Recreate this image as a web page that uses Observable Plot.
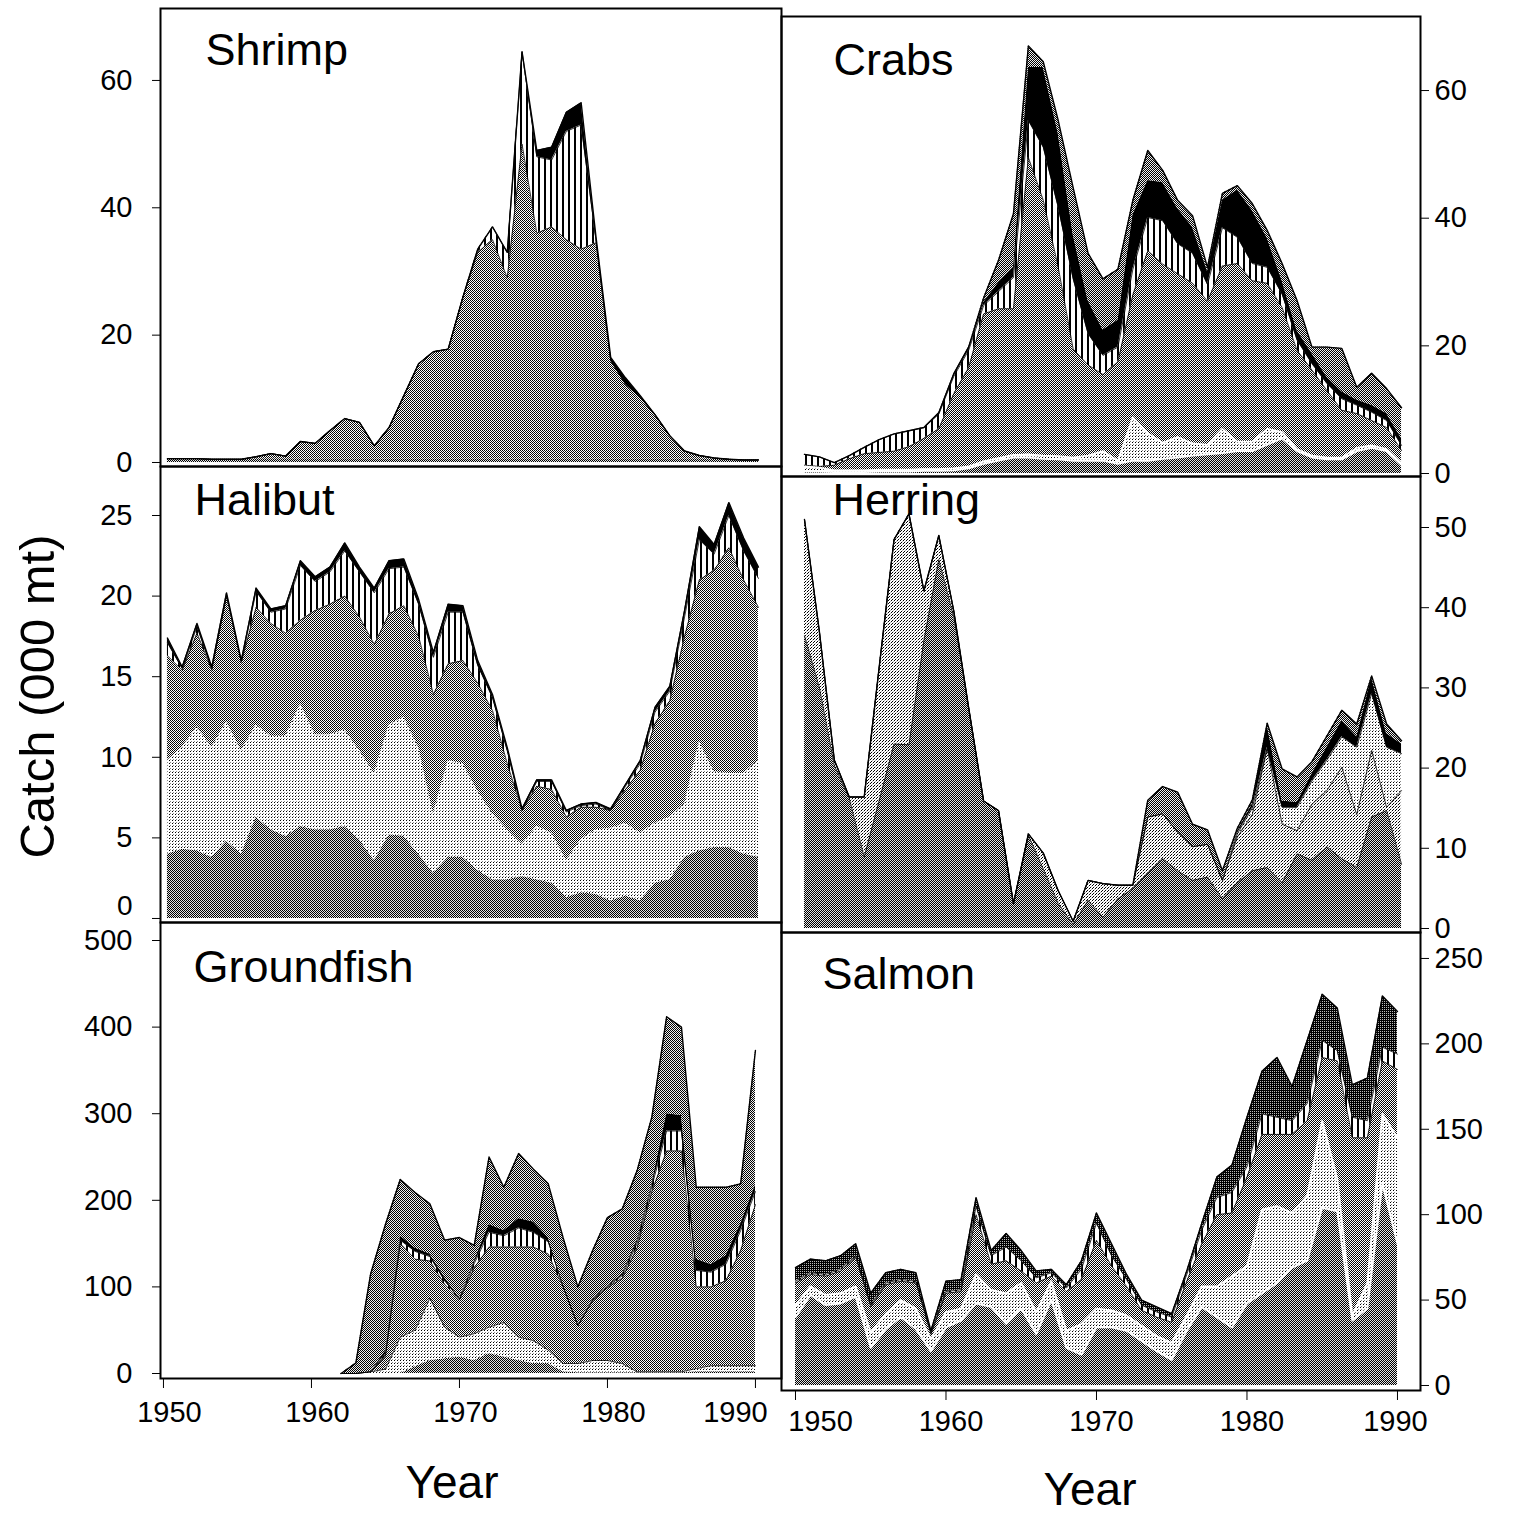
<!DOCTYPE html>
<html>
<head>
<meta charset="utf-8">
<title>Catch by fishery, 1950–1990</title>
<script src="https://cdn.jsdelivr.net/npm/d3@7"></script>
<script src="https://cdn.jsdelivr.net/npm/@observablehq/plot@0.6"></script>
<style>
  html, body { margin: 0; padding: 0; background: #fff; }
  #fig { position: relative; width: 1519px; height: 1516px; overflow: hidden;
         font-family: "Liberation Sans", Arial, Helvetica, sans-serif; color: #000; }
  .panel { position: absolute; }
  .panel svg { display: block; overflow: visible; max-width: none; }
  .label { position: absolute; white-space: nowrap; text-align: center; }
</style>
</head>
<body>
<div id="fig">
  <!-- Halftone fills shared by all panels -->
  <svg width="0" height="0" style="position:absolute" aria-hidden="true">
    <defs>
      <pattern id="pDark" width="2" height="2" patternUnits="userSpaceOnUse">
        <rect width="2" height="2" fill="#e2e2e2"/>
        <rect x="0" y="0" width="1" height="1" fill="#000"/>
        <rect x="1" y="1" width="1" height="1" fill="#000"/>
      </pattern>
      <pattern id="pMed" width="2" height="2" patternUnits="userSpaceOnUse">
        <rect width="2" height="2" fill="#fff"/>
        <rect x="0" y="0" width="1" height="1" fill="#000"/>
        <rect x="1" y="1" width="1" height="1" fill="#111"/>
      </pattern>
      <pattern id="pTop" width="2" height="2" patternUnits="userSpaceOnUse">
        <rect width="2" height="2" fill="#efefef"/>
        <rect x="0" y="0" width="1" height="1" fill="#000"/>
        <rect x="1" y="1" width="1" height="1" fill="#000"/>
      </pattern>
      <pattern id="pLight" width="3" height="3" patternUnits="userSpaceOnUse">
        <rect width="3" height="3" fill="#fff"/>
        <rect x="0" y="0" width="1" height="1" fill="#000"/>
        <rect x="1" y="2" width="1" height="1" fill="#888"/>
      </pattern>
      <pattern id="pLight2" width="3" height="3" patternUnits="userSpaceOnUse">
        <rect width="3" height="3" fill="#fff"/>
        <rect x="0" y="0" width="1" height="1" fill="#000"/>
        <rect x="2" y="1" width="1" height="1" fill="#000"/>
        <rect x="1" y="2" width="1" height="1" fill="#aaa"/>
      </pattern>
      <pattern id="pStripe" width="6" height="6" patternUnits="userSpaceOnUse">
        <rect width="6" height="6" fill="#fff"/>
        <rect x="0" y="0" width="2" height="6" fill="#000"/>
      </pattern>
      <pattern id="pBlackish" width="2" height="2" patternUnits="userSpaceOnUse">
        <rect width="2" height="2" fill="#000"/>
        <rect x="1" y="1" width="1" height="1" fill="#bbb"/>
      </pattern>
    </defs>
  </svg>
  <div class="label" style="left:-163px; top:672px; width:400px; font-size:49px; line-height:49px; transform:rotate(-90deg);">Catch (000 mt)</div>
  <div class="label" style="left:352px; top:1459px; width:200px; font-size:46px; line-height:46px;">Year</div>
  <div class="label" style="left:990px; top:1466px; width:200px; font-size:46px; line-height:46px;">Year</div>
</div>
<script>
// ---- years ----
const YEARS = [
  1950, 1951, 1952, 1953, 1954, 1955, 1956, 1957, 1958, 1959,
  1960, 1961, 1962, 1963, 1964, 1965, 1966, 1967, 1968, 1969,
  1970, 1971, 1972, 1973, 1974, 1975, 1976, 1977, 1978, 1979,
  1980, 1981, 1982, 1983, 1984, 1985, 1986, 1987, 1988, 1989, 1990
];
const GROUNDFISH_YEARS = [
  1962, 1963, 1964, 1965, 1966, 1967, 1968, 1969, 1970, 1971,
  1972, 1973, 1974, 1975, 1976, 1977, 1978, 1979, 1980, 1981,
  1982, 1983, 1984, 1985, 1986, 1987, 1988, 1989, 1990
];

// ---- Shrimp (000 mt), stacked bottom to top ----
const shrimpBand = [
  0.6, 0.6, 0.6, 0.5, 0.5, 0.5, 0.6, 0.6, 0.6, 0.6,
  0.6, 0.6, 0.6, 0.6, 0.6, 0.5, 0.5, 0.5, 0.5, 0.5,
  0.5, 0.5, 0.5, 0.5, 0.5, 0.5, 0.5, 0.5, 0.5, 0.5,
  0.5, 0.5, 0.5, 0.5, 0.5, 0.5, 0.5, 0.5, 0.5, 0.4, 0.4
];
const shrimpMain = [
  0, 0, 0, 0, 0, 0, 0.3, 0.8, 0.4, 2.7,
  2.4, 4.4, 6.3, 5.7, 2.0, 5.0, 10.0, 15.0, 16.9, 17.3,
  25.5, 32.5, 34.5, 28.5, 49.5, 35.5, 36.5, 34.5, 33.0, 34.0,
  15.5, 11.8, 9.7, 7.0, 3.7, 1.3, 0.6, 0.2, 0, 0, 0
];
const shrimpStriped = [
  0, 0, 0, 0, 0, 0, 0, 0, 0, 0,
  0, 0, 0, 0, 0, 0, 0, 0, 0, 0,
  0, 0.5, 2, 4, 14.5, 12, 10.5, 17, 19.5, 0.5,
  0, 0, 0, 0, 0, 0, 0, 0, 0, 0, 0
];
const shrimpBlack = [
  0, 0, 0, 0, 0, 0, 0, 0, 0, 0,
  0, 0, 0, 0, 0, 0, 0, 0, 0, 0,
  0, 0, 0, 0, 0, 1, 2, 3, 3.5, 0.5,
  0.5, 1.0, 0.3, 0, 0, 0, 0, 0, 0, 0, 0
];

// ---- Crabs ----
const crabDark = [
  0.3, 0.3, 0.2, 0.2, 0.2, 0.3, 0.3, 0.3, 0.4, 0.4,
  0.5, 0.8, 1.5, 2.0, 2.5, 2.5, 2.3, 2.2, 2.0, 2.0,
  2.0, 1.5, 2.0, 2.0, 2.3, 2.5, 2.8, 3.0, 3.2, 3.5,
  3.5, 4.5, 5.5, 3.5, 2.5, 2.2, 2.2, 3.5, 4.0, 3.5, 1.3
];
const crabLight = [
  0.8, 0.6, 0.3, 0.3, 0.3, 0.3, 0.3, 0.3, 0.3, 0.3,
  0.3, 0.3, 0.4, 0.4, 0.4, 0.5, 0.5, 0.5, 0.5, 0.8,
  1.5, 0.5, 6.8, 4.3, 2.5, 3.2, 1.9, 1.5, 3.8, 1.5,
  1.5, 2.5, 1.0, 0.3, 0.3, 0.3, 0.3, 0.5, 0.4, 0.3, 0.3
];
const crabMain = [
  0.2, 0.2, 0.8, 1.8, 2.6, 2.7, 2.9, 3.6, 4.8, 6.3,
  11.7, 15.5, 23.1, 23.4, 22.9, 46.5, 40.0, 29.6, 17.0, 14.2,
  12.0, 15.5, 19.2, 28.6, 28.0, 25.6, 25.1, 22.5, 25.5, 27.9,
  25.2, 22.8, 19.5, 15.5, 13.4, 10.5, 7.4, 5.4, 3.9, 3.4, 2.0
];
const crabStriped = [
  1.7, 1.5, 0.4, 0.5, 1.0, 2.0, 2.7, 2.5, 1.7, 2.3,
  2.7, 2.7, 1.3, 2.7, 4.9, 5.8, 8.3, 9.4, 11.0, 4.9,
  3.0, 2.3, 4.0, 5.2, 6.8, 4.7, 4.7, 2.6, 6.0, 4.1,
  2.7, 2.5, 2.1, 1.6, 1.0, 1.1, 1.8, 1.3, 1.3, 1.1, 0.8
];
const crabBlack = [
  0, 0, 0, 0, 0, 0, 0, 0, 0, 0.2,
  0.4, 0.5, 0.5, 1.4, 1.6, 8.3, 12.5, 11.6, 7.0, 5.2,
  4.0, 4.2, 8.5, 5.8, 6.0, 5.5, 4.1, 2.1, 4.3, 7.4,
  8.3, 4.6, 2.1, 1.5, 1.6, 1.0, 1.1, 0.8, 1.1, 1.1, 1.1
];
const crabTop = [
  0, 0, 0, 0, 0, 0, 0, 0, 0, 0,
  0, 0, 0.7, 3.5, 8.4, 3.4, 0.9, 2.0, 7.3, 7.4,
  8.0, 8.0, 2.3, 4.7, 1.9, 1.3, 1.8, 0.6, 1.1, 0.7,
  1.1, 1.2, 2.7, 4.7, 1.0, 4.7, 6.8, 2.0, 5.0, 3.9, 4.8
];

// ---- Halibut ----
const halibutDark = [
  4.0, 4.3, 4.2, 3.8, 4.8, 4.0, 6.3, 5.5, 5.1, 5.7,
  5.5, 5.5, 5.7, 4.9, 3.6, 5.2, 5.1, 4.0, 2.8, 3.8,
  3.8, 3.0, 2.4, 2.4, 2.6, 2.4, 2.2, 1.3, 1.6, 1.5,
  1.1, 1.4, 1.1, 2.2, 2.4, 3.8, 4.2, 4.4, 4.4, 4.0, 3.8
];
const halibutLight = [
  5.8, 6.3, 7.7, 6.8, 7.4, 6.4, 5.7, 5.8, 6.2, 7.6,
  5.9, 5.9, 6.0, 5.5, 5.4, 6.8, 7.4, 6.6, 3.7, 6.0,
  5.8, 4.9, 4.1, 3.1, 2.0, 3.3, 3.1, 2.3, 3.3, 4.0,
  4.5, 4.5, 4.2, 3.7, 3.9, 3.3, 6.8, 4.7, 4.6, 5.0, 6.0
];
const halibutMain = [
  6.5, 4.8, 5.8, 4.8, 7.8, 5.5, 7.3, 7.0, 6.4, 5.2,
  7.7, 8.1, 8.3, 8.3, 8.0, 6.9, 6.9, 6.9, 7.4, 6.0,
  6.4, 6.7, 6.4, 4.1, 2.1, 2.5, 2.7, 2.7, 2.0, 1.4,
  1.1, 2.1, 3.9, 6.2, 7.2, 10.4, 10.0, 12.5, 14.0, 12.0, 9.5
];
const halibutStriped = [
  0.8, 0.1, 0.4, 0.1, 0.1, 0, 1.0, 0.7, 1.5, 3.4,
  1.8, 2.0, 2.8, 2.8, 3.2, 2.8, 2.4, 2.0, 2.3, 3.2,
  3.0, 1.1, 0.8, 0.8, 0, 0.3, 0.5, 0.3, 0.1, 0.2,
  0, 0.2, 0.4, 0.7, 0.6, 1.2, 2.5, 1.0, 2.0, 1.8, 1.8
];
const halibutBlack = [
  0.3, 0.1, 0.2, 0.1, 0.1, 0.1, 0.2, 0.2, 0.2, 0.3,
  0.3, 0.3, 0.5, 0.3, 0.3, 0.5, 0.5, 0.3, 0.3, 0.5,
  0.4, 0.3, 0.2, 0.2, 0.1, 0.1, 0.1, 0.1, 0.1, 0.1,
  0.1, 0.1, 0.2, 0.3, 0.3, 0.4, 0.8, 0.6, 0.8, 0.8, 0.7
];

// ---- Herring ----
const herringDark = [
  36.5, 30.0, 20.3, 16.2, 8.9, 15.9, 23.0, 22.9, 35.9, 46.0,
  38.8, 27.5, 15.9, 14.7, 3.1, 11.6, 7.4, 3.1, 0.5, 3.5,
  1.4, 3.7, 5.0, 6.9, 8.7, 7.2, 6.0, 6.4, 3.7, 5.7,
  7.2, 7.6, 5.7, 9.3, 8.5, 10.2, 8.7, 7.6, 13.9, 14.7, 8.0
];
const herringLight = [
  14.5, 7.0, 0.7, 0.2, 7.5, 16.6, 25.5, 28.8, 6.2, 3.0,
  0.8, 0, 0, 0, 0, 0.2, 2.0, 1.6, 0.4, 2.5,
  4.2, 1.7, 0.4, 7.0, 5.6, 4.8, 4.2, 4.1, 2.3, 5.7,
  7.0, 14.8, 7.3, 2.9, 7.0, 7.0, 11.4, 6.6, 8.3, 0.4, 9.2
];
const herringMid = [
  0, 0, 0, 0, 0, 0, 0, 0, 0, 0,
  0, 0, 0, 0, 0, 0, 0, 0, 0, 0,
  0, 0, 0, 0, 0, 0, 0, 0, 0, 0.4,
  0.8, 0.2, 2.1, 2.9, 2.9, 3.8, 3.8, 8.4, 7.1, 7.5, 4.6
];
const herringBlack = [
  0, 0, 0, 0, 0, 0, 0, 0, 0, 0,
  0, 0, 0, 0, 0, 0, 0, 0, 0, 0,
  0, 0, 0, 0, 0, 0, 0, 0, 0, 0.3,
  0.5, 2.8, 0.8, 0.6, 0.9, 1.6, 2.0, 1.3, 2.0, 1.7, 1.2
];
const herringTop = [
  0, 0, 0, 0, 0, 0, 0, 0, 0, 0,
  0, 0, 0, 0, 0, 0, 0, 0, 0, 0,
  0, 0, 0, 2.1, 3.4, 5.0, 2.8, 1.8, 1.2, 0.4,
  0.5, 0.2, 4.0, 3.2, 1.5, 1.4, 1.3, 1.6, 0.2, 1.2, 0.4
];

// ---- Groundfish (from 1962) ----
const groundDark = [
  0, 0, 0, 0, 0, 7.7, 15, 17, 19, 15,
  23, 19, 15, 11.5, 11.5, 2, 1, 1, 1, 1,
  1, 1, 1, 1, 2, 2, 2, 2, 2
];
const groundLight = [
  0, 0, 2, 5, 42, 42.3, 72, 36.5, 23, 31,
  30.5, 40, 27, 26.5, 15.5, 9.5, 10.5, 14, 14, 10.5,
  1, 1, 1, 1, 3.7, 7, 7, 7, 7
];
const groundMain = [
  0, 0, 0, 15, 108, 82, 43, 49.5, 43, 76,
  92.5, 87, 104, 108, 111, 88.5, 43.5, 69, 84, 98.5,
  143, 208, 255, 255, 94.3, 91, 98, 133, 186
];
const groundStriped = [
  0, 0, 0, 2, 4, 9, 5, 4, 1, 5,
  17, 13, 22, 17, 14, 1, 0.5, 1, 1, 3,
  5, 6, 23, 23, 19, 17, 19, 23, 15
];
const groundBlack = [
  0, 0, 0, 4, 5, 4, 3, 4, 1, 3,
  9, 6, 11, 12, 5, 2, 0.5, 1, 1, 2,
  4, 3, 20, 18, 13, 9, 10, 8, 8
];
const groundTop = [
  0, 12, 113, 146, 65, 64, 58, 43, 70, 18,
  78, 50, 75, 61, 62, 54, 44, 56, 79, 75,
  80, 77, 112, 102, 83, 89, 79, 46, 155
];

// ---- Salmon ----
const salmonDark = [
  40, 53, 47, 48, 52, 22, 33, 40, 33, 20,
  34, 38, 48, 46, 36, 45, 30, 50, 22, 18,
  34, 34, 32, 26, 20, 15, 32, 46, 40, 34,
  48, 54, 60, 69, 73, 104, 102, 38, 45, 118, 83
];
const salmonLight = [
  7, 5, 6, 6, 6, 9, 9, 10, 12, 7,
  9, 7, 17, 10, 18, 15, 13, 11, 10, 18,
  11, 10, 9, 9, 9, 10, 9, 12, 18, 30,
  22, 49, 45, 32, 38, 51, 19, 3, 15, 41, 62
];
const salmonMain = [
  13, 7, 11, 13, 17, 15, 17, 11, 15, 3,
  11, 10, 35, 15, 19, 7, 17, 3, 23, 26,
  40, 26, 17, 9, 11, 12, 20, 25, 42, 37,
  52, 44, 42, 46, 44, 37, 69, 104, 85, 31, 40
];
const salmonStriped = [
  1, 1, 1, 1, 1, 1, 1, 1, 1, 1,
  1, 1, 5, 5, 8, 6, 3, 2, 2, 6,
  10, 6, 4, 3, 3, 3, 4, 8, 10, 12,
  6, 12, 10, 8, 10, 10, 6, 12, 10, 8, 9
];
const salmonTop = [
  8, 8, 8, 8, 7, 7, 6, 6, 5, 1,
  6, 6, 5, 3, 8, 6, 4, 2, 2, 5,
  6, 7, 3, 3, 3, 2, 2, 4, 12, 16,
  29, 25, 35, 20, 37, 27, 25, 19, 25, 30, 25
];

const FONT = "'Liberation Sans', Arial, Helvetica, sans-serif";
const DARK = "url(#pDark)", MED = "url(#pMed)", TOP = "url(#pTop)", LIGHT = "url(#pLight)",
      LIGHT2 = "url(#pLight2)", STRIPE = "url(#pStripe)", BLACK = "#000", BLACKISH = "url(#pBlackish)";

const panels = [
  {name: "Shrimp", left: 160, top: 8, width: 621, height: 458, side: "left",
   xDomain: [1949.53, 1991.56], yDomain: [-0.63, 71.3], yTicks: [0, 20, 40, 60],
   titleDx: 45, titleDy: 25, years: YEARS,
   layers: [
     {values: shrimpBand, fill: DARK, edge: "none"},
     {values: shrimpMain, fill: MED, edge: "#000"},
     {values: shrimpStriped, fill: STRIPE, edge: "#000"},
     {values: shrimpBlack, fill: BLACK, edge: "none"}]},
  {name: "Crabs", left: 781, top: 16, width: 639, height: 460, side: "right",
   xDomain: [1948.46, 1991.27], yDomain: [-0.47, 71.6], yTicks: [0, 20, 40, 60],
   titleDx: 52, titleDy: 27, years: YEARS,
   layers: [
     {values: crabDark, fill: DARK, edge: "#fff"},
     {values: crabLight, fill: LIGHT, edge: "#fff"},
     {values: crabMain, fill: MED, edge: "#000"},
     {values: crabStriped, fill: STRIPE, edge: "#000"},
     {values: crabBlack, fill: BLACK, edge: "none"},
     {values: crabTop, fill: TOP, edge: "none"}]},
  {name: "Halibut", left: 160, top: 466, width: 621, height: 456, side: "left",
   xDomain: [1949.53, 1991.56], yDomain: [-0.25, 28.04], yTicks: [0, 5, 10, 15, 20, 25],
   liftZeroLabel: 12,
   titleDx: 34, titleDy: 17, years: YEARS,
   layers: [
     {values: halibutDark, fill: DARK, edge: "none"},
     {values: halibutLight, fill: LIGHT, edge: "none"},
     {values: halibutMain, fill: MED, edge: "#000"},
     {values: halibutStriped, fill: STRIPE, edge: "#000"},
     {values: halibutBlack, fill: BLACK, edge: "none"}]},
  {name: "Herring", left: 781, top: 476, width: 639, height: 456, side: "right",
   xDomain: [1948.46, 1991.27], yDomain: [-0.5, 56.36], yTicks: [0, 10, 20, 30, 40, 50],
   titleDx: 51, titleDy: 7, years: YEARS,
   layers: [
     {values: herringDark, fill: DARK, edge: "#000"},
     {values: herringLight, fill: LIGHT2, edge: "#000"},
     {values: herringMid, fill: LIGHT, edge: "#000"},
     {values: herringBlack, fill: BLACK, edge: "none"},
     {values: herringTop, fill: TOP, edge: "none"}]},
  {name: "Groundfish", left: 160, top: 922, width: 621, height: 456, side: "left",
   xDomain: [1949.8, 1991.76], yDomain: [-5.77, 520.8], yTicks: [0, 100, 200, 300, 400, 500],
   titleDx: 33, titleDy: 28, years: GROUNDFISH_YEARS,
   xLabels: [{years: [1950, 1960, 1970, 1980], dx: 6}, {years: [1990], dx: -20}], xLabelDy: 23,
   layers: [
     {values: groundDark, fill: DARK, edge: "none"},
     {values: groundLight, fill: LIGHT, edge: "#000"},
     {values: groundMain, fill: MED, edge: "#000"},
     {values: groundStriped, fill: STRIPE, edge: "#000"},
     {values: groundBlack, fill: BLACK, edge: "none"},
     {values: groundTop, fill: TOP, edge: "none"}]},
  {name: "Salmon", left: 781, top: 932, width: 639, height: 458, side: "right",
   xDomain: [1949.07, 1991.53], yDomain: [-2.93, 265.2], yTicks: [0, 50, 100, 150, 200, 250],
   titleDx: 41, titleDy: 25, years: YEARS,
   xLabels: [{years: [1950], dx: 25}, {years: [1960, 1970, 1980], dx: 5}, {years: [1990], dx: -2}], xLabelDy: 20,
   layers: [
     {values: salmonDark, fill: DARK, edge: "#fff"},
     {values: salmonLight, fill: LIGHT, edge: "#fff"},
     {values: salmonMain, fill: MED, edge: "#000"},
     {values: salmonStriped, fill: STRIPE, edge: "#000"},
     {values: salmonTop, fill: BLACKISH, edge: "none"}]}
];

const fig = document.getElementById("fig");

for (const p of panels) {
  const rows = [];
  p.layers.forEach((layer, i) => {
    layer.values.forEach((v, j) => rows.push({year: p.years[j], value: v, layer: i, fill: layer.fill, edge: layer.edge}));
  });
  const last = p.layers.length - 1;
  const stack = {x: "year", y: "value", z: "layer"};
  const bottom = !!p.xLabels;
  const lift = p.liftZeroLabel || 0;

  const marks = [
    Plot.areaY(rows, {...stack, fill: "fill"}),
    Plot.lineY(rows, Plot.stackY2({...stack, stroke: d => d.edge === "#000" ? "#000" : "none", strokeWidth: 0.8})),
    Plot.lineY(rows, Plot.stackY2({...stack, stroke: d => d.edge === "#fff" ? "#fff" : "none", strokeWidth: 1.8})),
    Plot.lineY(rows, Plot.stackY2({...stack, stroke: d => d.layer === last ? "#000" : "none", strokeWidth: 1.4})),
    Plot.frame({stroke: "#000", strokeWidth: 2}),
    Plot.text([p.name], {frameAnchor: "top-left", dx: p.titleDx, dy: p.titleDy, fontSize: 45,
                         lineAnchor: "top", textAnchor: "start", fill: "#000"})
  ];
  // the zero label sits a little above its tick where it meets the panel below
  if (lift) {
    marks.push(Plot.text([0], {y: d => d, text: d => String(d), frameAnchor: "left", dx: -28, dy: -lift,
                               textAnchor: "end", fontSize: 28, fill: "#000"}));
  }
  if (bottom) {
    for (const g of p.xLabels) {
      marks.push(Plot.text(g.years, {x: d => d, text: d => String(d), frameAnchor: "bottom",
                                      dx: g.dx, dy: p.xLabelDy, lineAnchor: "top", fontSize: 29, fill: "#000"}));
    }
  }

  const svg = Plot.plot({
    width: p.width,
    height: p.height,
    marginTop: 0, marginRight: 0, marginBottom: 0, marginLeft: 0,
    style: `background: transparent; overflow: visible; max-width: none; font-family: ${FONT}; font-size: 29px; color: #000;`,
    x: {domain: p.xDomain, axis: bottom ? "bottom" : null, ticks: [1950, 1960, 1970, 1980, 1990],
        tickSize: 10, tickFormat: () => "", label: null},
    y: {domain: p.yDomain, axis: p.side, ticks: p.yTicks, tickSize: 8,
        tickPadding: p.side === "left" ? 20 : 6,
        tickFormat: d => (lift && d === 0) ? "" : String(d), label: null},
    color: {type: "identity"},
    marks
  });

  const wrap = document.createElement("div");
  wrap.className = "panel";
  wrap.style.left = p.left + "px";
  wrap.style.top = p.top + "px";
  wrap.style.width = p.width + "px";
  wrap.style.height = p.height + "px";
  wrap.appendChild(svg);
  fig.appendChild(wrap);
}
</script>
</body>
</html>
